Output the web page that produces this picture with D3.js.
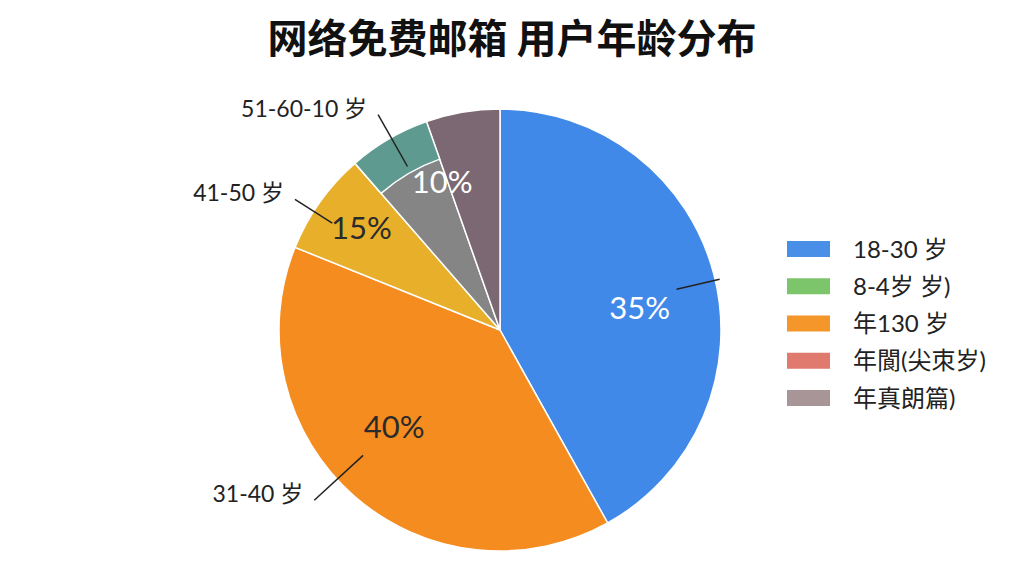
<!DOCTYPE html>
<html>
<head>
<meta charset="utf-8">
<script src="https://cdn.jsdelivr.net/npm/d3@7"></script>
<style>
  body { margin: 0; background: #fff; }
  svg { display: block; }
</style>
</head>
<body>
<div id="chart"></div>
<script>
// slices, clockwise from 12 o'clock; share = part of the circle as drawn
var sliceNames  = ["18-30", "31-40", "41-50", "51-60", "60+"];
var sliceShare  = [41.9, 39.2, 7.5, 6.0, 5.4];
var sliceColors = ["#4189e8", "#f58c1f", "#e8b02a", "#858585", "#7b6872"];
var bandColor   = "#5e9a90";   // outer band on the 51-60 slice

// percent labels (the 10% one sits over the last two slices)
var pctText = ["35%", "40%", "15%", "10%"];
var pctFill = ["#fff", "#2b2b2b", "#2b2b2b", "#fff"];

// outside callouts
var calloutText = ["", "31-40 岁", "41-50 岁", "51-60-10 岁"];

// legend
var legendText   = ["18-30 岁", "8-4岁 岁)", "年130 岁", "年閬(尖朿岁)", "年真朗篇)"];
var legendColors = ["#4a8fe7", "#7dc56a", "#f5962a", "#e07a6e", "#a89598"];

var W = 1024, H = 576,
    cx = 500, cy = 330, R = 221;

// label placement (angle in degrees from 12 o'clock, radius as share of R)
var pctPos     = [[81, 0.64], [227.5, 0.65], [306.5, 0.78], [338.7, 0.72]];
var calloutPos = [[77, 0.82, 1.02], [227.5, 0.84, 1.14], [302.5, 0.9, 1.1], [330.5, 0.85, 1.12]];

var svg = d3.select("#chart")
  .append("svg")
  .attr("width", W)
  .attr("height", H);

svg.append("text")
  .attr("x", 512)
  .attr("y", 53)
  .attr("text-anchor", "middle")
  .attr("font-family", "'Noto Sans CJK SC', sans-serif")
  .attr("font-weight", "bold")
  .attr("font-size", "40px")
  .attr("fill", "#111")
  .text("网络免费邮箱 用户年龄分布");

var g = svg.append("g")
  .attr("transform", "translate(" + cx + "," + cy + ")");

var pie = d3.pie().sort(null).value(function(d) { return d; });
var arcs = pie(sliceShare);

var arc = d3.arc().innerRadius(0).outerRadius(R);

g.selectAll(".slice")
  .data(arcs)
  .enter()
  .append("path")
  .attr("class", "slice")
  .attr("d", arc)
  .attr("fill", function(d, i) { return sliceColors[i]; })
  .attr("stroke", "#fff")
  .attr("stroke-width", 1.5)
  .attr("stroke-linejoin", "round");

// teal band on the outside of the 51-60 slice
g.append("path")
  .attr("d", d3.arc().innerRadius(R * 0.82).outerRadius(R)(arcs[3]))
  .attr("fill", bandColor)
  .attr("stroke", "#fff")
  .attr("stroke-width", 1.5);

var rad = Math.PI / 180;
function polar(a, r) {
  return [Math.sin(a * rad) * r, -Math.cos(a * rad) * r];
}

// percent labels
g.selectAll(".pct")
  .data(pctText)
  .enter()
  .append("text")
  .attr("class", "pct")
  .attr("transform", function(d, i) {
    var p = polar(pctPos[i][0], R * pctPos[i][1]);
    return "translate(" + p[0] + "," + p[1] + ")";
  })
  .attr("text-anchor", "middle")
  .attr("dy", "0.36em")
  .attr("font-family", "Lato, 'Noto Sans', sans-serif")
  .attr("font-size", "31px")
  .attr("fill", function(d, i) { return pctFill[i]; })
  .text(function(d) { return d; });

// callout lines + names
calloutPos.forEach(function(c, i) {
  var p0 = polar(c[0], R * c[1]),
      p1 = polar(c[0], R * c[2]);
  g.append("line")
    .attr("x1", p0[0]).attr("y1", p0[1])
    .attr("x2", p1[0]).attr("y2", p1[1])
    .attr("stroke", "#222")
    .attr("stroke-width", 1.5);
  if (calloutText[i]) {
    g.append("text")
      .attr("x", p1[0] - 11)
      .attr("y", p1[1] - 6)
      .attr("dy", "0.35em")
      .attr("text-anchor", "end")
      .attr("font-family", "Lato, 'Noto Sans CJK SC', sans-serif")
      .attr("font-size", "23px")
      .attr("fill", "#222")
      .text(calloutText[i]);
  }
});

// legend
var legendY = d3.scalePoint()
  .domain(d3.range(legendText.length))
  .range([249, 398]);

var leg = svg.selectAll(".leg")
  .data(legendText)
  .enter()
  .append("g")
  .attr("class", "leg")
  .attr("transform", function(d, i) { return "translate(787," + legendY(i) + ")"; });

leg.append("rect")
  .attr("x", 0)
  .attr("y", -8)
  .attr("width", 43)
  .attr("height", 16)
  .attr("fill", function(d, i) { return legendColors[i]; });

leg.append("text")
  .attr("x", 66)
  .attr("dy", "0.36em")
  .attr("font-family", "Lato, 'Noto Sans CJK SC', sans-serif")
  .attr("font-size", "24px")
  .attr("fill", "#222")
  .text(function(d) { return d; });
</script>
</body>
</html>
